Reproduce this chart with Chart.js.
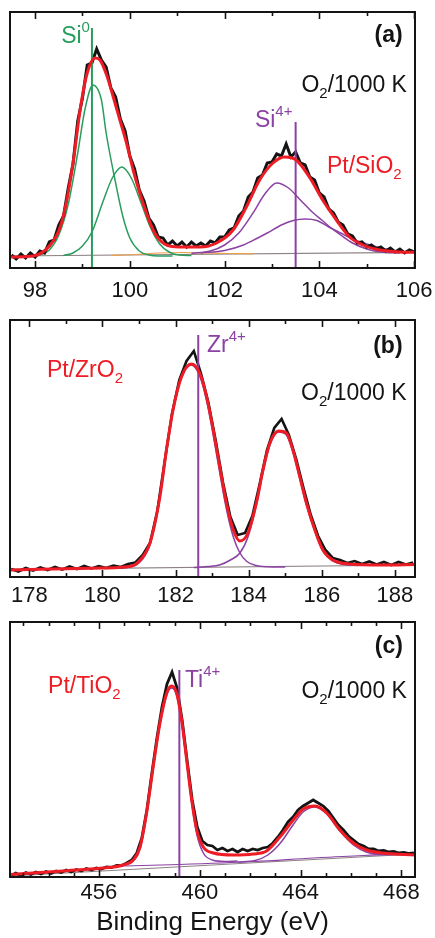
<!DOCTYPE html>
<html>
<head>
<meta charset="utf-8">
<script src="https://cdn.jsdelivr.net/npm/chart.js@4.4.1/dist/chart.umd.min.js"></script>
<style>
  html, body { margin: 0; padding: 0; background: #fff; }
  .panel { position: absolute; left: 0; width: 435px; }
</style>
</head>
<body>
<div class="panel" style="top:0;height:310px"><canvas id="chartA"></canvas></div>
<div class="panel" style="top:310px;height:300px"><canvas id="chartB"></canvas></div>
<div class="panel" style="top:610px;height:328px"><canvas id="chartC"></canvas></div>
<script>
// ---- (a) Si 2p, Pt/SiO2 ----
const siRawE = [97.5,97.6,97.7,97.8,97.9,98.0,98.1,98.2,98.3,98.4,98.5,98.6,98.7,98.8,98.9,99.0,99.1,99.2,99.3,99.4,
    99.5,99.6,99.7,99.8,99.9,100.0,100.1,100.2,100.3,100.4,100.5,100.6,100.7,100.8,100.9,101.0,101.1,101.2,101.3,101.4,
    101.5,101.6,101.7,101.8,101.9,102.0,102.1,102.2,102.3,102.4,102.5,102.6,102.7,102.8,102.9,103.0,103.1,103.2,103.3,103.4,
    103.5,103.6,103.7,103.8,103.9,104.0,104.1,104.2,104.3,104.4,104.5,104.6,104.7,104.8,104.9,105.0,105.1,105.2,105.3,105.4,
    105.5,105.6,105.7,105.8,105.9,106.0];
const siRaw = [13,9,14,10,15,11,17,15,26,28,43,52,80,104,147,170,203,205,219,208,
    201,180,171,149,137,112,99,78,67,50,43,31,30,23,27,22,26,21,26,22,
    25,22,27,25,31,31,38,40,52,57,71,76,90,93,105,106,114,112,124,111,
    116,105,103,91,88,75,71,59,55,46,43,34,32,25,26,21,23,19,21,17,
    20,16,19,15,18,16];
const siFitE = [97.47,97.96,98.32,98.53,98.67,98.81,98.95,99.1,99.27,99.37,99.51,99.65,99.79,99.93,100.07,100.21,100.35,100.49,100.63,
    100.84,101.12,101.48,101.83,102.18,102.46,102.74,103.02,103.27,103.51,103.79,104.07,104.36,104.64,104.92,105.28,105.7,106.02];
const siFit = [11,12,23,41,68,108,158,195,210,208,193,171,148,125,98,75,55,38,28,
    22,21,21,25,38,61,88,105,111,108,91,68,48,31,23,18,16,15.7];
const siG1E = [97.9,98.1,98.3,98.5,98.7,98.9,99.05,99.22,99.4,99.5,99.7,99.85,100.0,100.2,100.4,100.6,100.9];
const siG1 = [11.5,13,18,33,64,115,158,183,168,135,85,52,30,17,13,12,12];
const siG2E = [98.6,98.8,99.0,99.2,99.43,99.63,99.83,100.03,100.23,100.43,100.63,100.83,101.03,101.3];
const siG2 = [12.5,15,22,36,66,90,101,90,66,41,24,16,13,12.5];
const siP1E = [101.3,101.7,102.0,102.3,102.6,102.85,103.1,103.35,103.6,103.85,104.05,104.25,104.45,104.7,105.0,105.3,105.7];
const siP1 = [14.5,17,23,35,55,74,85,80,68,56,48,40,33,25,19,16,15];
const siP2E = [101.5,102.0,102.4,102.7,102.9,103.2,103.45,103.7,103.95,104.2,104.45,104.7,105.0,105.3,105.6,106.02];
const siP2 = [15,17.5,23,30,35,43,47.5,49,47.5,41,35,29,24,20,17,15.7];
const siOrE = [99.6,100.1,100.6,101.1,101.6,102.1,102.6];
const siOr = [12.5,13.5,15,15.5,15,14.5,14.2];
const siBaseE = [97.47,106.02];
const siBase = [12,15.7];
const si0Line = [99.2, 240];
const si4Line = [103.5, 146];
const siMajor = [98,100,102,104,106];
const siMinor = [98,99,100,101,102,103,104,105,106];

// ---- (b) Zr 3d, Pt/ZrO2 ----
const zrRawE = [177.5,177.7,177.9,178.1,178.3,178.5,178.7,178.9,179.1,179.3,179.5,179.7,179.9,180.1,180.3,180.5,180.7,180.9,181.1,181.3,
    181.5,181.7,181.9,182.1,182.3,182.5,182.7,182.9,183.1,183.3,183.5,183.7,183.9,184.1,184.3,184.5,184.7,184.9,185.1,185.3,
    185.5,185.7,185.9,186.1,186.3,186.5,186.7,186.9,187.1,187.3,187.5,187.7,187.9,188.1,188.3,188.5];
const zrRaw = [8,5.5,9,6.5,9.5,7,10,7.5,10.5,8,11,8.5,11,9,11.5,10,13,14.5,22,34,
    66,115,163,197,216,226,203,174,136,94,60,42,44,61,93,127,149,158,142,118,
    89,62,41,27,19,17,14,16,13,15.5,12.5,15,12,15,12.5,14.5];
const zrFitE = [177.47,180.0,180.8,181.03,181.3,181.57,181.75,181.93,182.16,182.43,182.66,182.85,183.03,183.21,183.39,183.58,
    183.76,183.98,184.21,184.39,184.58,184.82,185.03,185.21,185.4,185.58,185.81,186.03,186.3,186.76,187.67,188.55];
const zrFit = [7,9,11,17,34,80,127,167,200,213,204,180,147,110,74,47,
    36,44,74,107,134,146,144,127,100,74,47,27,17,13,12,12.5];
const zrP1E = [180.5,181.0,181.3,181.57,181.75,181.93,182.16,182.43,182.66,182.85,183.03,183.21,183.39,183.58,183.76,183.95,184.2,184.5,185.0];
const zrP1 = [8.5,14,33,79,126,166,199,212,201,176,142,104,68,40,24,15.5,11.5,10.3,10];
const zrP2E = [182.5,182.9,183.2,183.5,183.76,183.98,184.21,184.39,184.58,184.82,185.03,185.21,185.4,185.58,185.81,186.03,186.3,186.6,187.0];
const zrP2 = [9.5,10.5,12,17,24,40,72,104,132,145,142,125,98,72,46,26,16,12.5,11.5];
const zrBaseE = [177.47,188.55];
const zrBase = [7.7,12];
const zrLine = [182.62, 242];
const zrMajor = [178,180,182,184,186,188];
const zrMinor = [178,179,180,181,182,183,184,185,186,187,188];

// ---- (c) Ti 2p, Pt/TiO2 ----
const tiRawE = [452.5,452.7,452.9,453.1,453.3,453.5,453.7,453.9,454.1,454.3,454.5,454.7,454.9,455.1,455.3,455.5,455.7,455.9,456.1,456.3,
    456.5,456.7,456.9,457.1,457.3,457.5,457.7,457.9,458.1,458.3,458.5,458.7,458.9,459.1,459.3,459.5,459.7,459.9,460.1,460.3,
    460.5,460.7,460.9,461.1,461.3,461.5,461.7,461.9,462.1,462.3,462.5,462.7,462.9,463.1,463.3,463.5,463.7,463.9,464.1,464.3,
    464.5,464.7,464.9,465.1,465.3,465.5,465.7,465.9,466.1,466.3,466.5,466.7,466.9,467.1,467.3,467.5,467.7,467.9,468.1,468.3,468.5];
const tiRaw = [1,4,1.5,4.5,2.5,5,3,5.5,3.5,6,4.5,7,5,7.5,6,8.5,7,9,8,10,
    9.5,11.5,11.5,14,17,24,39,67,104,139,170,193,205,189,157,116,77,50,36,32,
    31,27,29,26,28,25,28,26,28,27,29,30,34,40,47,55,60,67,71,74,
    77,74,71,66,59,52,47,41,37,33,31,28,28,26,26.5,25,25.5,24,24.5,23.5,24];
const tiFitE = [452.47,454.72,456.04,456.96,457.36,457.63,457.89,458.15,458.42,458.69,458.88,459.08,459.28,459.48,459.68,459.88,
    460.14,460.54,461.33,462.12,462.65,463.18,463.71,464.11,464.57,465.04,465.56,466.09,466.62,467.28,468.54];
const tiFit = [2.5,6.3,8.7,12,17,30,64,110,154,184,191,184,157,117,77,47,
    30,24,22,23,26,40,57,68,71,64,47,34,27,24,22];
const tiP1E = [456.5,457.2,457.63,457.89,458.15,458.42,458.69,458.88,459.08,459.28,459.48,459.68,459.88,460.14,460.5,461.0,461.5];
const tiP1 = [10,14,28,62,108,152,182,189,182,155,115,74,43,24,17,15.5,16];
const tiP2E = [461.5,462.2,462.7,463.2,463.7,464.1,464.57,465.04,465.56,466.1,466.6,467.3,468.54];
const tiP2 = [15,16.5,22,34,52,65,70,63,46,32,25,22.5,23];
const tiBgE = [457.0,459.2,462.2,464.5,466.5,468.54];
const tiBg = [11,12.5,15.5,19,21.5,23];
const tiBaseE = [452.47,468.54];
const tiBase = [1,23];
const tiLine = [459.19, 207];
const tiMajor = [456,460,464,468];
const tiMinor = [453,454,455,456,457,458,459,460,461,462,463,464,465,466,467,468];

const FONT = '"Liberation Sans", Arial, Helvetica, sans-serif';
const GREEN = '#2a9d5e';
const PURPLE = '#8b42a3';
const RED = '#ee1c24';
const BLACK = '#141414';
const GREY = '#8c8283';
const ORANGE = '#eea048';

function xy(xs, ys) {
    return xs.map((x, i) => ({x: x, y: ys[i]}));
}

function line(xs, ys, color, width, smooth) {
    return {
        data: xy(xs, ys),
        borderColor: color,
        borderWidth: width,
        pointRadius: 0,
        fill: false,
        tension: 0,
        cubicInterpolationMode: smooth ? 'monotone' : 'default'
    };
}

function vline(v, color) {
    return line([v[0], v[0]], [0, v[1]], color, 2, false);
}

// box round the plot with inward ticks on top and bottom
function frame(major, minor) {
    return {
        id: 'frame',
        afterDatasetsDraw(chart) {
            const {ctx, chartArea: a, scales: {x}} = chart;
            ctx.save();
            ctx.strokeStyle = BLACK;
            ctx.lineWidth = 2;
            ctx.strokeRect(a.left, a.top, a.right - a.left, a.bottom - a.top);
            ctx.lineWidth = 1.6;
            ctx.beginPath();
            for (const v of minor) {
                const px = Math.round(x.getPixelForValue(v)) + 0.5;
                const len = major.includes(v) ? 7 : 4;
                ctx.moveTo(px, a.bottom);
                ctx.lineTo(px, a.bottom - len);
                ctx.moveTo(px, a.top);
                ctx.lineTo(px, a.top + len);
            }
            ctx.stroke();
            ctx.restore();
        }
    };
}

// labels with sub/superscripts, placed in data units
function notes(items) {
    return {
        id: 'notes',
        afterDatasetsDraw(chart) {
            const {ctx, scales: {x, y}} = chart;
            ctx.save();
            ctx.textBaseline = 'alphabetic';
            for (const n of items) {
                const size = n.size || 23;
                const pieces = n.parts.map(p => {
                    const small = p[1] === 'sub' || p[1] === 'sup';
                    const f = (n.bold ? 'bold ' : '') + (small ? Math.round(size * 0.66) : size) + 'px ' + FONT;
                    ctx.font = f;
                    return {
                        text: p[0],
                        font: f,
                        w: ctx.measureText(p[0]).width,
                        dy: p[1] === 'sup' ? -size * 0.47 : (p[1] === 'sub' ? size * 0.28 : 0)
                    };
                });
                const total = pieces.reduce((s, p) => s + p.w, 0);
                let px = x.getPixelForValue(n.x);
                if (n.align === 'right') px -= total;
                const py = y.getPixelForValue(n.y);
                ctx.fillStyle = n.color;
                for (const p of pieces) {
                    ctx.font = p.font;
                    ctx.fillText(p.text, px, py + p.dy);
                    px += p.w;
                }
            }
            ctx.restore();
        }
    };
}

function makePanel(id, o) {
    return new Chart(document.getElementById(id), {
        type: 'line',
        data: {datasets: o.datasets},
        options: {
            responsive: true,
            maintainAspectRatio: false,
            animation: false,
            layout: {padding: o.padding},
            plugins: {
                legend: {display: false},
                tooltip: {enabled: false}
            },
            scales: {
                x: {
                    type: 'linear',
                    min: o.min,
                    max: o.max,
                    grid: {display: false, drawTicks: false},
                    border: {display: false},
                    afterBuildTicks: s => { s.ticks = o.major.map(v => ({value: v})); },
                    afterFit: s => {
                        s.height = o.axisH;
                        s.paddingLeft = 0;
                        s.paddingRight = 0;
                    },
                    ticks: {
                        padding: o.tickPad,
                        autoSkip: false,
                        maxRotation: 0,
                        color: BLACK,
                        font: {family: FONT, size: 22}
                    },
                    title: {
                        display: !!o.title,
                        text: o.title || '',
                        color: BLACK,
                        padding: {top: 0, bottom: 0},
                        font: {family: FONT, size: 26}
                    }
                },
                y: {display: false, min: 0, max: o.ymax}
            }
        },
        plugins: [frame(o.major, o.minor), notes(o.notes)]
    });
}

makePanel('chartA', {
    min: 97.47, max: 106.02, ymax: 256,
    padding: {left: 10, right: 20, top: 12, bottom: 0},
    axisH: 42, tickPad: 10,
    major: siMajor, minor: siMinor,
    datasets: [
        line(siFitE, siFit, RED, 3, true),
        vline(si0Line, GREEN),
        vline(si4Line, PURPLE),
        line(siRawE, siRaw, BLACK, 3, false),
        line(siG1E, siG1, GREEN, 1.5, true),
        line(siG2E, siG2, GREEN, 1.5, true),
        line(siP1E, siP1, PURPLE, 1.5, true),
        line(siP2E, siP2, PURPLE, 1.5, true),
        line(siOrE, siOr, ORANGE, 1.2, true),
        line(siBaseE, siBase, GREY, 1.2, false)
    ],
    notes: [
        {x: 98.55, y: 225, parts: [['Si'], ['0', 'sup']], color: GREEN},
        {x: 102.64, y: 141, parts: [['Si'], ['4+', 'sup']], color: PURPLE},
        {x: 104.16, y: 95, parts: [['Pt/SiO'], ['2', 'sub']], color: RED},
        {x: 105.76, y: 226, parts: [['(a)']], color: BLACK, bold: true, align: 'right'},
        {x: 105.85, y: 176, parts: [['O'], ['2', 'sub'], ['/1000 K']], color: BLACK, align: 'right'}
    ]
});

makePanel('chartB', {
    min: 177.47, max: 188.55, ymax: 257,
    padding: {left: 10, right: 20, top: 10, bottom: 0},
    axisH: 33, tickPad: 6,
    major: zrMajor, minor: zrMinor,
    datasets: [
        line(zrFitE, zrFit, RED, 3, true),
        vline(zrLine, PURPLE),
        line(zrRawE, zrRaw, BLACK, 2.6, false),
        line(zrP1E, zrP1, PURPLE, 1.5, true),
        line(zrP2E, zrP2, PURPLE, 1.5, true),
        line(zrBaseE, zrBase, GREY, 1.2, false)
    ],
    notes: [
        {x: 182.86, y: 225, parts: [['Zr'], ['4+', 'sup']], color: PURPLE},
        {x: 178.48, y: 200, parts: [['Pt/ZrO'], ['2', 'sub']], color: RED},
        {x: 188.21, y: 224, parts: [['(b)']], color: BLACK, bold: true, align: 'right'},
        {x: 188.32, y: 177, parts: [['O'], ['2', 'sub'], ['/1000 K']], color: BLACK, align: 'right'}
    ]
});

makePanel('chartC', {
    min: 452.47, max: 468.54, ymax: 255,
    padding: {left: 10, right: 20, top: 12, bottom: 0},
    axisH: 61, tickPad: 2.5,
    major: tiMajor, minor: tiMinor,
    title: 'Binding Energy (eV)',
    datasets: [
        line(tiFitE, tiFit, RED, 3, true),
        vline(tiLine, PURPLE),
        line(tiRawE, tiRaw, BLACK, 2.8, false),
        line(tiP1E, tiP1, PURPLE, 1.5, true),
        line(tiP2E, tiP2, PURPLE, 1.5, true),
        line(tiBgE, tiBg, PURPLE, 1.2, true),
        line(tiBaseE, tiBase, GREY, 1.2, false)
    ],
    notes: [
        {x: 459.41, y: 190, parts: [['Ti'], ['4+', 'sup']], color: PURPLE},
        {x: 453.98, y: 184, parts: [['Pt/TiO'], ['2', 'sub']], color: RED},
        {x: 468.06, y: 224, parts: [['(c)']], color: BLACK, bold: true, align: 'right'},
        {x: 468.22, y: 179, parts: [['O'], ['2', 'sub'], ['/1000 K']], color: BLACK, align: 'right'}
    ]
});
</script>
</body>
</html>
